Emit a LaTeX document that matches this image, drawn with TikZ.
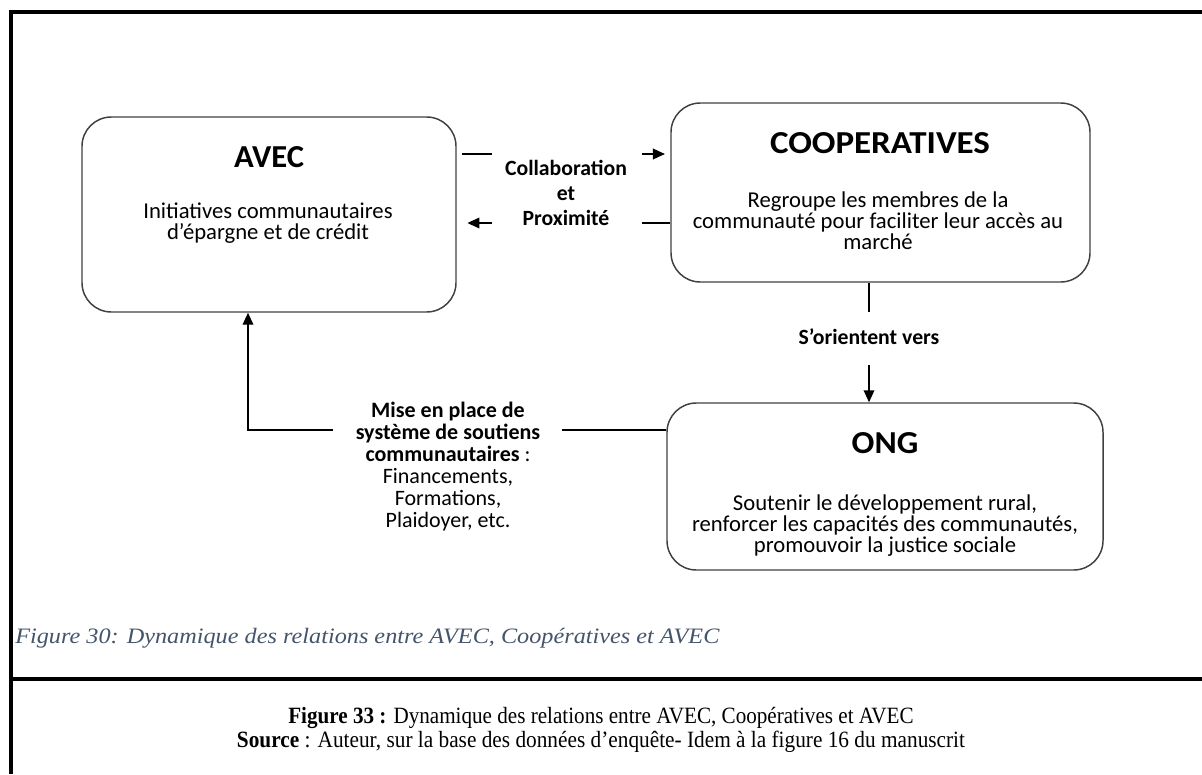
\documentclass[tikz,border=0pt]{standalone}
\usepackage{fontspec}
\setmainfont{Carlito}
\newfontfamily\capfont{Liberation Serif}
\usetikzlibrary{arrows.meta}
\definecolor{capblue}{RGB}{68,84,106}
\begin{document}
\begin{tikzpicture}[x=0.75pt,y=-0.75pt,
  box/.style={draw=black!75, line width=1.1pt, rounded corners=22pt, inner sep=0pt},
  conn/.style={line width=1.1pt, black},
  arr/.style={conn, -{Triangle[length=9pt,width=8pt]}},
  frameline/.style={line width=2.6pt, black},
  ttl/.style={inner sep=0pt, font=\bfseries\fontsize{24}{28}\selectfont},
  body/.style={font=\fontsize{17}{15.75}\selectfont, align=center, inner sep=0pt},
  lbl/.style={font=\bfseries\fontsize{16.3}{18.75}\selectfont, align=center, inner sep=0pt},
  captext/.style={inner sep=0pt}]
\useasboundingbox (0,0) rectangle (1202,774);
% frame
\draw[frameline] (11,12) -- (1202,12);
\draw[frameline] (11,10.5) -- (11,774);
\draw[frameline] (11,679) -- (1202,679);
% boxes
\node[box, minimum width=280.5pt, minimum height=146.25pt] (avec) at (269,214.5) {};
\node[box, minimum width=314.25pt, minimum height=134.25pt] (coop) at (880.5,192.5) {};
\node[box, minimum width=327pt, minimum height=125.25pt] (ong) at (885,486.5) {};
% box texts
\node[ttl] (avecT) at (269,157) {\resizebox{52.5pt}{\height}{AVEC}};
\node[body] (avecB) at (268,223) {Initiatives communautaires\\d’épargne et de crédit};
\node[ttl] (coopT) at (880,143) {\resizebox{165pt}{\height}{COOPERATIVES}};
\node[body] (coopB) at (878,221) {Regroupe les membres de la\\communauté pour faciliter leur accès au\\marché};
\node[ttl] (ongT) at (885,443) {\resizebox{50pt}{\height}{ONG}};
\node[body] (ongB) at (885,526) {Soutenir le développement rural,\\renforcer les capacités des communautés,\\promouvoir la justice sociale};
% labels
\node[lbl] (collab) at (566,193) {Collaboration\\et\\Proximité};
\node[lbl] (orient) at (869,337) {S’orientent vers};
\node[align=center, inner sep=0pt, font=\fontsize{16.5}{16.5}\selectfont] (mise) at (448,467)
  {\textbf{Mise en place de}\\\textbf{système de soutiens}\\\textbf{communautaires} :\\Financements,\\Formations,\\Plaidoyer, etc.};
% connector coordinates
\coordinate (c1) at (492,154);
\coordinate (c2) at (642,154);
\coordinate (c3) at (642,223);
\coordinate (c4) at (492,223);
\coordinate (d1) at (869,312);
\coordinate (d2) at (869,365);
\coordinate (m1) at (562,430);
\coordinate (m2) at (333,430);
\coordinate (m3) at (248,430);
% connectors
\draw[conn, shorten <=4pt] (avec.east |- c1) -- (c1);
\draw[arr, shorten >=4pt] (c2) -- (coop.west |- c2);
\draw[conn] (coop.west |- c3) -- (c3);
\draw[arr, shorten >=8pt] (c4) -- (avec.east |- c4);
\draw[conn] (d1 |- coop.south) -- (d1);
\draw[arr] (d2) -- (d2 |- ong.north);
\draw[conn] (ong.west |- m1) -- (m1);
\draw[arr] (m2) -- (m3) -- (m3 |- avec.south);
% captions
\node[captext, anchor=west, text=capblue, font=\capfont\itshape\fontsize{16.5}{19}\selectfont] (fig30) at (15,638)
  {\resizebox{528pt}{\height}{Figure 30: Dynamique des relations entre AVEC, Coopératives et AVEC}};
\node[captext, font=\capfont\fontsize{17.5}{18}\selectfont] (fig33) at (601,718)
  {\resizebox{469pt}{\height}{\textbf{Figure 33 :} Dynamique des relations entre AVEC, Coopératives et AVEC}};
\node[captext, font=\capfont\fontsize{17.5}{18}\selectfont] (source) at (601,742)
  {\resizebox{546pt}{\height}{\textbf{Source} : Auteur, sur la base des données d’enquête- Idem à la figure 16 du manuscrit}};
\end{tikzpicture}
\end{document}
